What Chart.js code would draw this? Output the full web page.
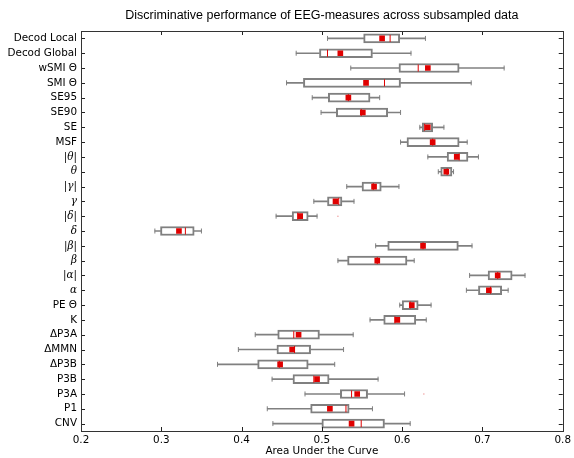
<html>
<head>
<script src="https://cdn.jsdelivr.net/npm/chart.js@4.4.1/dist/chart.umd.min.js"></script>
<style>
body {margin:0; background:#fff;}
#wrap {width:574px; height:458px; position:relative;}
</style>
</head>
<body>
<div id="wrap"><canvas id="canvas"></canvas></div>
<script>
// rows, top to bottom
var labels = ['Decod Local','Decod Global','wSMI \u0398','SMI \u0398','SE95','SE90','SE','MSF',
  '|\u03b8|','\u03b8','|\u03b3|','\u03b3','|\u03b4|','\u03b4','|\u03b2|','\u03b2','|\u03b1|','\u03b1',
  'PE \u0398','K','\u0394P3A','\u0394MMN','\u0394P3B','P3B','P3A','P1','CNV'];
var greek = ['|\u03b8|','\u03b8','|\u03b3|','\u03b3','|\u03b4|','\u03b4','|\u03b2|','\u03b2','|\u03b1|','\u03b1'];

var whiskerLow  = [0.507,0.468,0.536,0.456,0.488,0.499,0.622,0.598,0.632,0.645,0.531,0.490,0.443,0.292,0.567,0.520,0.684,0.680,0.597,0.560,0.417,0.396,0.370,0.438,0.479,0.432,0.439];
var q1          = [0.552,0.497,0.596,0.477,0.508,0.518,0.625,0.606,0.656,0.648,0.550,0.507,0.463,0.299,0.582,0.532,0.707,0.695,0.600,0.577,0.445,0.444,0.420,0.464,0.523,0.486,0.500];
var median      = [0.585,0.507,0.620,0.578,0.533,0.549,0.628,0.638,0.671,0.656,0.564,0.521,0.470,0.330,0.626,0.569,0.719,0.710,0.610,0.591,0.465,0.466,0.447,0.490,0.537,0.530,0.549];
var mean        = [0.575,0.523,0.632,0.555,0.533,0.551,0.632,0.638,0.668,0.655,0.565,0.517,0.473,0.322,0.626,0.569,0.719,0.708,0.612,0.594,0.471,0.463,0.448,0.494,0.544,0.510,0.537];
var q3          = [0.597,0.563,0.671,0.598,0.560,0.582,0.638,0.671,0.682,0.662,0.574,0.525,0.483,0.341,0.670,0.606,0.737,0.724,0.620,0.617,0.497,0.486,0.483,0.509,0.557,0.534,0.578];
var whiskerHigh = [0.629,0.611,0.727,0.686,0.572,0.598,0.652,0.681,0.695,0.664,0.596,0.540,0.494,0.350,0.687,0.615,0.753,0.732,0.636,0.630,0.539,0.527,0.516,0.570,0.603,0.563,0.610];
var flierRows   = ['|\u03b4|','P3A'];
var flierValues = [0.520,0.627];

var gray = '#808080';
var red = '#e00000';

function pts(vals){ return labels.map(function(l,i){ return {x: vals[i], y: l}; }); }

// frame + inward ticks on all four sides, like matplotlib
var frameTicks = {
  id: 'frameTicks',
  afterDraw: function(chart) {
    var c = chart.ctx, a = chart.chartArea, sx = chart.scales.x, sy = chart.scales.y;
    c.save();
    c.strokeStyle = '#222';
    c.lineWidth = 1;
    c.beginPath();
    sx.ticks.forEach(function(t){
      var px = Math.round(sx.getPixelForValue(t.value)) + 0.5;
      c.moveTo(px, a.bottom); c.lineTo(px, a.bottom - 4);
      c.moveTo(px, a.top); c.lineTo(px, a.top + 4);
    });
    labels.forEach(function(l,i){
      var py = Math.round(sy.getPixelForValue(i)) + 0.5;
      c.moveTo(a.left, py); c.lineTo(a.left + 4, py);
      c.moveTo(a.right, py); c.lineTo(a.right - 4, py);
    });
    c.stroke();
    c.strokeStyle = '#333';
    c.strokeRect(Math.round(a.left)+0.5, Math.round(a.top)+0.5, Math.round(a.right-a.left), Math.round(a.bottom-a.top));
    c.restore();
  }
};

var ctx = document.getElementById('canvas').getContext('2d');
var chart = new Chart(ctx, {
  type: 'bar',
  data: {
    labels: labels,
    datasets: [
      { label:'whisker low', data: labels.map(function(l,i){ return [whiskerLow[i], q1[i]]; }),
        backgroundColor: gray, borderWidth: 0, barThickness: 1, grouped: false, order: 9 },
      { label:'whisker high', data: labels.map(function(l,i){ return [q3[i], whiskerHigh[i]]; }),
        backgroundColor: gray, borderWidth: 0, barThickness: 1, grouped: false, order: 9 },
      { label:'box', data: labels.map(function(l,i){ return [q1[i], q3[i]]; }),
        backgroundColor: '#ffffff', borderColor: gray, borderWidth: 2, borderSkipped: false,
        barThickness: 9, grouped: false, order: 5 },
      { type:'scatter', label:'caps', data: pts(whiskerLow).concat(pts(whiskerHigh)),
        pointStyle: 'line', rotation: 90, radius: 2.5, borderColor: gray, borderWidth: 1, order: 8 },
      { type:'scatter', label:'median', data: pts(median),
        pointStyle: 'line', rotation: 90, radius: 3.5, borderColor: red, borderWidth: 1, order: 3 },
      { type:'scatter', label:'mean', data: pts(mean),
        pointStyle: 'rect', radius: 4, backgroundColor: red, borderWidth: 0, order: 1 },
      { type:'scatter', label:'fliers', data: flierRows.map(function(r,i){ return {x: flierValues[i], y: r}; }),
        pointStyle: 'circle', radius: 0.8, backgroundColor: '#f0a0a0', borderWidth: 0, order: 2 }
    ]
  },
  options: {
    indexAxis: 'y',
    responsive: true,
    maintainAspectRatio: false,
    animation: false,
    layout: { padding: { right: 8, left: 0, top: 0, bottom: 0 } },
    plugins: {
      legend: { display: false },
      tooltip: { enabled: false },
      title: {
        display: true,
        fullSize: false,
        text: 'Discriminative performance of EEG-measures across subsampled data',
        color: '#000',
        font: { family: 'Liberation Sans', size: 12.5, weight: 'normal' },
        padding: { top: 8, bottom: 8 }
      }
    },
    scales: {
      x: {
        type: 'linear', min: 0.2, max: 0.8,
        grid: { display: false, drawTicks: false },
        border: { display: false },
        ticks: { stepSize: 0.1, padding: 3, color: '#000',
          font: { family: 'DejaVu Sans', size: 10.4 },
          callback: function(v){ return v.toFixed(1); } },
        title: { display: true, text: 'Area Under the Curve', color: '#000',
          font: { family: 'DejaVu Sans', size: 10.4 }, padding: { top: 0, bottom: 0 } },
        afterFit: function(s){ s.height = 27; }
      },
      y: {
        type: 'category',
        grid: { display: false, drawTicks: false },
        border: { display: false },
        ticks: { padding: 4, color: '#000', autoSkip: false,
          font: function(c){
            var l = labels[c.index];
            if (greek.indexOf(l) >= 0) return { family: 'DejaVu Serif', style: 'italic', size: 10.4 };
            return { family: 'DejaVu Sans', size: 10.4 };
          } },
        afterFit: function(s){ s.width = 81; }
      }
    }
  },
  plugins: [frameTicks]
});
</script>
</body>
</html>
